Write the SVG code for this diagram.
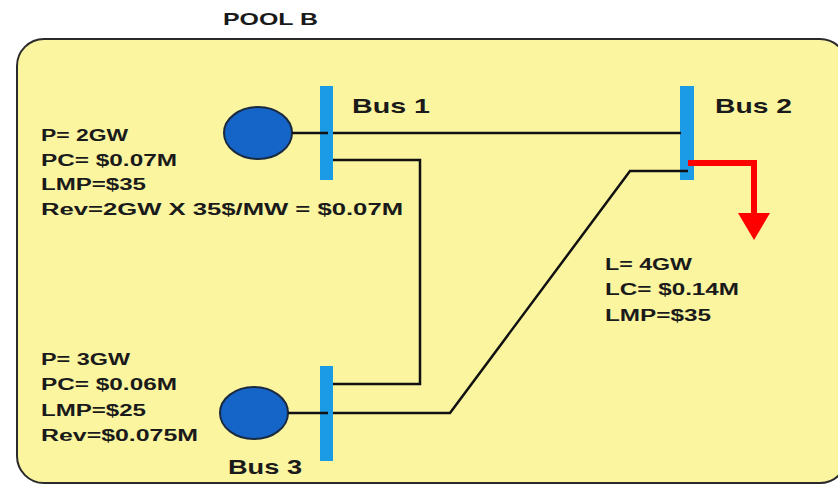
<svg xmlns="http://www.w3.org/2000/svg" width="838" height="486" viewBox="0 0 838 486">
<defs>
<style>
.t{font-family:"Liberation Sans",Arial,sans-serif;font-weight:bold;fill:#1a1a1a;}
.s{font-size:16px;}
.b{font-size:21px;}
.bar{fill:#1b9be6;}
.gen{fill:#1565c8;stroke:#1a2a40;stroke-width:2;}
.w{fill:none;stroke:#111;stroke-width:2.5;}
</style>
</defs>
<rect x="0" y="0" width="838" height="486" fill="#ffffff"/>
<text class="t" x="223" y="25" font-size="17" textLength="95" lengthAdjust="spacingAndGlyphs">POOL B</text>
<rect id="pool" x="17" y="39" width="830" height="444" rx="27" ry="27" fill="#fbf5a0" stroke="#2a2a2a" stroke-width="2"/>
<g id="gen1">
<ellipse class="gen" cx="258" cy="133" rx="34" ry="26"/>
<text class="t s" x="41" y="141" textLength="87" lengthAdjust="spacingAndGlyphs">P= 2GW</text>
<text class="t s" x="41" y="166" textLength="136" lengthAdjust="spacingAndGlyphs">PC= $0.07M</text>
<text class="t s" x="41" y="190" textLength="105" lengthAdjust="spacingAndGlyphs">LMP=$35</text>
<text class="t s" x="41" y="215" textLength="362" lengthAdjust="spacingAndGlyphs">Rev=2GW X 35$/MW = $0.07M</text>
</g>
<g id="bus1">
<rect class="bar" x="320" y="86" width="13" height="94"/>
<text class="t b" x="352" y="113" textLength="78" lengthAdjust="spacingAndGlyphs">Bus 1</text>
</g>
<g id="bus2">
<rect class="bar" x="680" y="86" width="14" height="94"/>
<text class="t b" x="715" y="113" textLength="77" lengthAdjust="spacingAndGlyphs">Bus 2</text>
</g>
<g id="load">
<text class="t s" x="605" y="270" textLength="87" lengthAdjust="spacingAndGlyphs">L= 4GW</text>
<text class="t s" x="605" y="295" textLength="134" lengthAdjust="spacingAndGlyphs">LC= $0.14M</text>
<text class="t s" x="605" y="321" textLength="106" lengthAdjust="spacingAndGlyphs">LMP=$35</text>
</g>
<g id="gen3">
<ellipse class="gen" cx="254" cy="413" rx="34" ry="26"/>
<text class="t s" x="41" y="365" textLength="89" lengthAdjust="spacingAndGlyphs">P= 3GW</text>
<text class="t s" x="41" y="390" textLength="136" lengthAdjust="spacingAndGlyphs">PC= $0.06M</text>
<text class="t s" x="41" y="416" textLength="105" lengthAdjust="spacingAndGlyphs">LMP=$25</text>
<text class="t s" x="41" y="441" textLength="157" lengthAdjust="spacingAndGlyphs">Rev=$0.075M</text>
</g>
<g id="bus3">
<rect class="bar" x="320" y="366" width="13" height="95"/>
<text class="t b" x="228" y="474" textLength="74" lengthAdjust="spacingAndGlyphs">Bus 3</text>
</g>
<g id="connectors">
<path class="w" d="M292,133 H328"/>
<path class="w" d="M333,133 H681"/>
<path class="w" d="M333,160 H420 V384 H333"/>
<path class="w" d="M288,413 H328"/>
<path class="w" d="M333,413 H450 L630,171 H688"/>
<path d="M688,163 H754 V214" fill="none" stroke="#ff0000" stroke-width="6"/>
<polygon points="738,213 770,213 754,240" fill="#ff0000"/>
</g>
</svg>
